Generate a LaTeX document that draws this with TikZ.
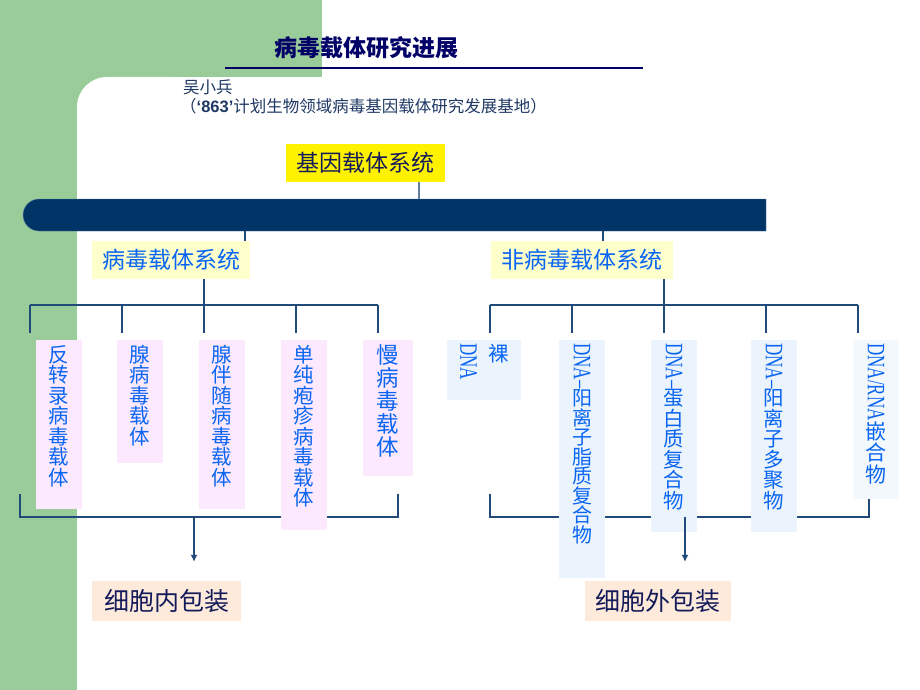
\documentclass[tikz,border=0pt]{standalone}
\usepackage{fontspec}
\usepackage{graphicx}
\setmainfont{Noto Sans CJK SC}
\newfontfamily\dnafont{Liberation Serif}
\newfontfamily\quotefont{Liberation Sans}
\usetikzlibrary{arrows.meta,shapes.misc}
\definecolor{bggreen}{HTML}{99CC99}
\definecolor{barcol}{HTML}{003366}
\definecolor{titlecol}{HTML}{000066}
\definecolor{authcol}{HTML}{1F3864}
\definecolor{darktext}{HTML}{141B5A}
\definecolor{linecol}{HTML}{1F4A7A}
\definecolor{labblue}{HTML}{0A66F2}
\definecolor{paleyellow}{HTML}{FFFFCC}
\definecolor{pinkfill}{HTML}{FDE9FD}
\definecolor{bluefill}{HTML}{EBF3FC}
\definecolor{peach}{HTML}{FDEADA}
\newcommand{\vdna}[1]{\rotatebox{-90}{\scalebox{0.68}[1]{\dnafont\fontsize{25}{25}\selectfont #1}}}
\begin{document}
\begin{tikzpicture}[x=1pt,y=-1pt,
  link/.style={draw=linecol, line width=1.1pt},
  pushdown/.style={draw=linecol, line width=1.3pt, -{Latex[length=7pt,width=7pt]}},
  author/.style={text=authcol, inner sep=0, font=\fontsize{16.5}{18}\selectfont},
  headbox/.style={inner sep=0, minimum height=38, font=\fontsize{23}{26}\selectfont},
  packbox/.style={fill=peach, inner sep=0, minimum height=40, text=darktext, font=\fontsize{25}{28}\selectfont},
  pinkbox/.style={fill=pinkfill, inner sep=0, minimum width=46, anchor=north},
  bluebox/.style={fill=bluefill, inner sep=0, minimum width=46, anchor=north},
  vtext/.style={text=labblue, inner sep=0, align=center, anchor=north, font=\fontsize{20.5}{20.5}\selectfont}]
\useasboundingbox (0,0) rectangle (920,690);
% background
\fill[bggreen] (0,0) rectangle (322,77);
\fill[bggreen] (0,0) rectangle (77,690);
\fill[bggreen] (77,77) rectangle (120,120);
\fill[white, rounded corners=30] (77,77) rectangle (200,200);

% heading
\node[text=titlecol, inner sep=0, font=\fontsize{23}{26}\selectfont\bfseries] (title) at (366,48) {病毒载体研究进展};
\coordinate (ul0) at (225,68);
\coordinate (ul1) at (643,68);
\draw[titlecol, line width=2.2pt] (ul0) -- (ul1);
\node[author, anchor=west] (name) at (183,87) {吴小兵};
\node[author, anchor=west] (base) at (180,106) {（{\quotefont\bfseries ‘863’}计划生物领域病毒基因载体研究发展基地）};

% top of the tree
\node[headbox, fill=yellow, minimum width=159, text=darktext] (gene) at (365.5,162.5) {基因载体系统};
\node[rounded rectangle, rounded rectangle right arc=none, fill=barcol, draw=linecol!70, minimum width=743, minimum height=32, inner sep=0] (bar) at (394.5,215) {};
\coordinate (g0) at ([xshift=53.5]gene.south);
\draw[link, draw=linecol!70] (g0) -- (g0 |- bar.north);

\node[headbox, fill=paleyellow, minimum width=158, text=labblue] (virus) at (171,260) {病毒载体系统};
\node[headbox, fill=paleyellow, minimum width=182, text=labblue] (nonvirus) at (582,260) {非病毒载体系统};
\coordinate (v0) at ([xshift=74]virus.north);
\coordinate (n0) at ([xshift=21]nonvirus.north);
\draw[link] (v0 |- bar.south) -- (v0);
\draw[link] (n0 |- bar.south) -- (n0);

% rails
\coordinate (lr0) at (30,305);
\coordinate (lr1) at (378,305);
\coordinate (rr0) at (490,305);
\coordinate (rr1) at (858,305);
\coordinate (v1) at ([xshift=33]virus.south);
\coordinate (n1) at ([xshift=82]nonvirus.south);
\draw[link] (v1) -- (v1 |- lr0);
\draw[link] (n1) -- (n1 |- rr0);
\draw[link] (lr0) -- (lr1);
\draw[link] (rr0) -- (rr1);
\foreach \x [count=\i] in {30,122,204,296,378}{
  \coordinate (ld\i) at (\x,333);
  \draw[link] (ld\i |- lr0) -- (ld\i);
}
\foreach \x [count=\i] in {490,572,664,766,858}{
  \coordinate (rd\i) at (\x,333);
  \draw[link] (rd\i |- rr0) -- (rd\i);
}

% bottom brackets
\coordinate (lb1) at (20,494);
\coordinate (lb2) at (20,517);
\coordinate (lb3) at (398,517);
\coordinate (lb4) at (398,494);
\draw[link] (lb1) -- (lb2) -- (lb3) -- (lb4);
\coordinate (rb1) at (490,494);
\coordinate (rb2) at (490,517);
\coordinate (rb3) at (869,517);
\coordinate (rb4) at (869,499);
\draw[link] (rb1) -- (rb2) -- (rb3) -- (rb4);

% virus vectors
\node[pinkbox, minimum height=169] (retro) at (59,340) {};
\node[vtext] (retrot) at ([yshift=-5]retro.north) {反\\转\\录\\病\\毒\\载\\体};
\node[pinkbox, minimum height=123] (adeno) at (140,340) {};
\node[vtext] (adenot) at ([yshift=-5]adeno.north) {腺\\病\\毒\\载\\体};
\node[pinkbox, minimum height=169] (aav) at (222,340) {};
\node[vtext] (aavt) at ([yshift=-5]aav.north) {腺\\伴\\随\\病\\毒\\载\\体};
\node[pinkbox, minimum height=190] (hsv) at (304,340) {};
\node[vtext] (hsvt) at ([yshift=-5]hsv.north) {单\\纯\\疱\\疹\\病\\毒\\载\\体};
\node[pinkbox, minimum width=50, minimum height=136] (lenti) at (388,340) {};
\node[vtext, font=\fontsize{22.5}{23}\selectfont] (lentit) at ([yshift=-4]lenti.north) {慢\\病\\毒\\载\\体};

% non-virus vectors
\node[bluebox, minimum width=74, minimum height=60] (naked) at (484,340) {};
\node[vtext] (nakedt) at ([xshift=15,yshift=-4]naked.north) {裸};
\node[vtext, anchor=north east] (nakedd) at ([xshift=-7,yshift=-3]naked.north) {\vdna{DNA}};
\node[bluebox, minimum height=238] (lipo) at (582,340) {};
\node[vtext, font=\fontsize{20}{19.5}\selectfont] (lipot) at ([yshift=-3]lipo.north) {\vdna{DNA–}\\阳\\离\\子\\脂\\质\\复\\合\\物};
\node[bluebox, minimum height=192] (prot) at (674,340) {};
\node[vtext] (prott) at ([yshift=-3]prot.north) {\vdna{DNA–}\\蛋\\白\\质\\复\\合\\物};
\node[bluebox, minimum height=192] (poly) at (774,340) {};
\node[vtext] (polyt) at ([yshift=-3]poly.north) {\vdna{DNA–}\\阳\\离\\子\\多\\聚\\物};
\node[bluebox, fill=bluefill!60!white, minimum height=159] (chim) at (876,340) {};
\node[vtext, font=\fontsize{21}{21.5}\selectfont] (chimt) at ([yshift=-3]chim.north) {\vdna{DNA/RNA}\\嵌\\合\\物};

% packaging
\node[packbox, minimum width=149] (inpack) at (166.5,601) {细胞内包装};
\node[packbox, minimum width=146] (outpack) at (658,601) {细胞外包装};
\coordinate (la) at (194,517);
\coordinate (ra) at (685,517);
\draw[pushdown] (la) -- ([yshift=19]la |- inpack.north);
\draw[pushdown] (ra) -- ([yshift=19]ra |- outpack.north);
\end{tikzpicture}
\end{document}
